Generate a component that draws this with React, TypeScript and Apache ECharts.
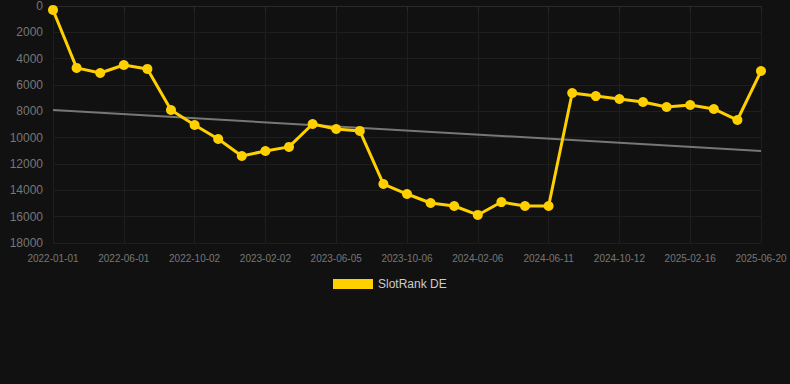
import React, { useEffect, useRef } from "react";
import * as echarts from "echarts";

const dates = [
  "2022-01-01", "2022-02-20", "2022-04-11", "2022-06-01", "2022-07-12", "2022-08-22",
  "2022-10-02", "2022-11-12", "2022-12-23", "2023-02-02", "2023-03-16", "2023-04-25",
  "2023-06-05", "2023-07-16", "2023-08-26", "2023-10-06", "2023-11-16", "2023-12-27",
  "2024-02-06", "2024-03-19", "2024-04-30", "2024-06-11", "2024-07-22", "2024-09-01",
  "2024-10-12", "2024-11-23", "2025-01-04", "2025-02-16", "2025-03-30", "2025-05-10",
  "2025-06-20",
];

const rankValues = [
  300, 4700, 5090, 4480, 4780, 7900, 9040, 10100, 11390, 11010, 10700, 8960,
  9340, 9490, 13520, 14280, 14960, 15190, 15870, 14890, 15190, 15190, 6610, 6840,
  7060, 7290, 7670, 7520, 7820, 8660, 4940,
];

const trendStart = 7900;
const trendEnd = 11010;

const seriesName = "SlotRank DE";

export default function App() {
  const ref = useRef<HTMLDivElement>(null);
  useEffect(() => {
    if (!ref.current) return;
    const chart = echarts.init(ref.current, null, { renderer: "svg" });
    const trendData = dates.map((_, i) =>
      i === 0 ? trendStart : i === dates.length - 1 ? trendEnd : null
    );
    chart.setOption({
      animation: false,
      backgroundColor: "#111111",
      grid: { left: 53, right: 29, top: 6, bottom: 141 },
      legend: {
        data: [{ name: seriesName, icon: "rect" }],
        bottom: 89,
        left: 328,
        itemWidth: 40,
        itemHeight: 10,
        itemGap: 6,
        textStyle: { color: "#cccccc", fontSize: 12 },
      },
      xAxis: {
        type: "category",
        data: dates,
        boundaryGap: false,
        axisLine: { lineStyle: { color: "#2a2a2a" } },
        axisTick: { show: true, interval: 2, lineStyle: { color: "#2a2a2a" } },
        axisLabel: { interval: 2, color: "#777777", fontSize: 10, margin: 10 },
        splitLine: { show: true, interval: 2, lineStyle: { color: "#1e1e1e" } },
      },
      yAxis: {
        type: "value",
        inverse: true,
        min: 0,
        max: 18000,
        interval: 2000,
        axisLine: { show: false },
        axisTick: { show: false },
        axisLabel: {
          color: "#777777",
          fontSize: 12,
          margin: 10,
          formatter: (v: number) => String(v),
        },
        splitLine: { lineStyle: { color: "#1e1e1e" } },
      },
      series: [
        {
          name: seriesName,
          type: "line",
          data: rankValues,
          color: "#FFD000",
          lineStyle: { width: 3, color: "#FFD000" },
          itemStyle: { color: "#FFD000" },
          symbol: "circle",
          symbolSize: 10,
          z: 3,
        },
        {
          name: "trend",
          type: "line",
          data: trendData,
          connectNulls: true,
          symbol: "none",
          lineStyle: { width: 2, color: "#777777" },
          itemStyle: { color: "#777777" },
          z: 2,
        },
      ],
    });
    return () => chart.dispose();
  }, []);
  return (
    <div
      ref={ref}
      style={{ position: "absolute", left: 0, top: 0, width: 790, height: 384 }}
    />
  );
}
